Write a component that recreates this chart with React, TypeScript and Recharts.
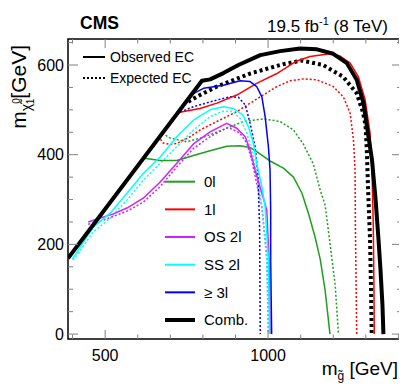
import React from 'react';
import { LineChart, Line, XAxis, YAxis } from 'recharts';

// ---------- data (m_gluino [GeV], m_LSP [GeV]) ----------
const combObserved: [number, number][] = [
  [386, 169], [797, 565], [822, 568], [863, 582], [909, 600], [976, 622], [1037, 631], [1098, 637],
  [1150, 635], [1200, 625], [1242, 604], [1272, 567], [1293, 515], [1305, 455], [1319, 388],
  [1330, 299], [1339, 210], [1345, 143], [1351, 65], [1354, 0],
];
const combExpected: [number, number][] = [
  [755, 518], [791, 533], [843, 552], [945, 581], [1047, 602], [1103, 610], [1169, 600], [1230, 574],
  [1272, 537], [1291, 495], [1299, 466], [1303, 410], [1307, 321], [1313, 210], [1316, 98], [1318, 0],
];
const zeroLepObserved: [number, number][] = [
  [620, 392], [669, 387], [720, 387], [771, 398], [822, 409], [873, 419], [914, 420], [945, 416],
  [965, 407], [1006, 386], [1047, 370], [1078, 350], [1104, 314], [1124, 269], [1144, 217],
  [1160, 167], [1175, 98], [1190, 0],
];
const zeroLepExpected: [number, number][] = [
  [675, 448], [700, 437], [751, 429], [802, 439], [873, 459], [924, 474], [986, 480], [1037, 474],
  [1078, 455], [1108, 424], [1139, 379], [1160, 321], [1175, 288], [1190, 203], [1206, 109], [1216, 0],
];
const oneLepObserved: [number, number][] = [
  [725, 494], [791, 503], [843, 515], [904, 533], [965, 559], [1027, 581], [1088, 609], [1129, 619],
  [1190, 625], [1221, 620], [1252, 604], [1277, 574], [1298, 522], [1313, 448], [1319, 366],
  [1323, 239], [1325, 98], [1326, 0],
];
const oneLepExpected: [number, number][] = [
  [663, 442], [678, 426], [700, 423], [720, 425], [761, 440], [791, 455], [843, 474], [904, 496],
  [976, 529], [1027, 552], [1068, 565], [1108, 569], [1150, 567], [1200, 552], [1231, 529],
  [1252, 492], [1262, 433], [1267, 366], [1268, 239], [1272, 0],
];
const os2lObserved: [number, number][] = [
  [448, 250], [495, 261], [525, 268], [567, 281], [617, 303], [669, 339], [720, 381], [771, 424],
  [822, 451], [873, 470], [904, 459], [930, 440], [945, 410], [960, 366], [981, 314], [996, 277],
  [1003, 165], [1006, 0],
];
const os2lExpected: [number, number][] = [
  [448, 245], [495, 254], [567, 274], [617, 294], [669, 329], [720, 373], [771, 414], [822, 440],
  [877, 461], [914, 448], [935, 425], [950, 388], [965, 336], [981, 284], [997, 165], [1001, 0],
];
const ss2lObserved: [number, number][] = [
  [399, 167], [464, 239], [515, 269], [567, 314], [617, 358], [669, 395], [720, 440], [771, 477],
  [822, 500], [863, 507], [894, 503], [923, 488], [940, 462], [955, 425], [965, 381], [981, 329],
  [991, 284], [1001, 165], [1005, 0],
];
const ss2lExpected: [number, number][] = [
  [402, 165], [464, 228], [515, 258], [567, 299], [617, 343], [669, 381], [720, 418], [771, 455],
  [822, 485], [863, 497], [893, 496], [914, 481], [935, 448], [955, 395], [970, 336], [981, 284],
  [996, 165], [1001, 0],
];
const ge3lObserved: [number, number][] = [
  [767, 535], [802, 548], [863, 555], [914, 565], [945, 563], [965, 552], [981, 529], [991, 485],
  [1001, 418], [1006, 366], [1008, 277], [1008, 165], [1011, 0],
];
const ge3lExpected: [number, number][] = [
  [712, 484], [730, 495], [771, 507], [843, 522], [884, 529], [909, 528], [930, 511], [945, 470],
  [960, 418], [969, 355], [974, 239], [976, 0],
];

const xTicks = [400, 500, 600, 700, 800, 900, 1000, 1100, 1200, 1300, 1400];
const yTicks = [0, 50, 100, 150, 200, 250, 300, 350, 400, 450, 500, 550, 600, 650];
const xDomain: [number, number] = [386, 1411];
const yDomain: [number, number] = [-11, 658];

const legendLabels = ['0l', '1l', 'OS 2l', 'SS 2l', '\u2265 3l', 'Comb.'];

// ---------- styles ----------
const GREEN = '#1f9e1f';
const RED = '#ff0000';
const MAGENTA = '#cc22ff';
const CYAN = '#00ffff';
const BLUE = '#0000ff';
const BLACK = '#000000';
const FONT = '"Liberation Sans", Arial, Helvetica, sans-serif';
const TICK = '#808080';

const W = 396;
const H = 375;
const PL = 60;
const PR = 394;
const PT = 31;
const PB = 331;

const toData = (pts: [number, number][]) => pts.map(([x, y]) => ({ x, y }));

type S = { pts: [number, number][]; color: string; width: number; dash?: string };
const series: S[] = [
  { pts: combExpected, color: BLACK, width: 4, dash: '3 3' },
  { pts: zeroLepExpected, color: GREEN, width: 1.5, dash: '2 2' },
  { pts: oneLepExpected, color: RED, width: 1.5, dash: '2 2' },
  { pts: os2lExpected, color: MAGENTA, width: 1.5, dash: '2 2' },
  { pts: ss2lExpected, color: CYAN, width: 1.5, dash: '2 2' },
  { pts: ge3lExpected, color: BLUE, width: 1.5, dash: '2 2' },
  { pts: zeroLepObserved, color: GREEN, width: 1.5 },
  { pts: oneLepObserved, color: RED, width: 1.5 },
  { pts: os2lObserved, color: MAGENTA, width: 1.5 },
  { pts: ss2lObserved, color: CYAN, width: 1.5 },
  { pts: ge3lObserved, color: BLUE, width: 1.5 },
  { pts: combObserved, color: BLACK, width: 4 },
];
const legendColors = [GREEN, RED, MAGENTA, CYAN, BLUE, BLACK];

const XTick = (p: any) => {
  const x = p.x;
  const v = p.payload.value;
  const major = v % 500 === 0;
  const len = major ? 9 : 4.5;
  return (
    <g>
      <line x1={x} x2={x} y1={PB} y2={PB - len} stroke={TICK} strokeWidth={1} />
      <line x1={x} x2={x} y1={PT} y2={PT + len} stroke={TICK} strokeWidth={1} />
      {major ? (
        <text x={x} y={PB + 22} textAnchor="middle" fontSize={16} fontFamily={FONT} fill="#000">
          {v}
        </text>
      ) : null}
    </g>
  );
};

const YTick = (p: any) => {
  const y = p.y;
  const v = p.payload.value;
  const major = v % 200 === 0;
  const len = major ? 10 : 5;
  return (
    <g>
      <line x1={PL} x2={PL + len} y1={y} y2={y} stroke={TICK} strokeWidth={1} />
      <line x1={PR} x2={PR - len} y1={y} y2={y} stroke={TICK} strokeWidth={1} />
      {major ? (
        <text x={56} y={y + 5.7} textAnchor="end" fontSize={16} fontFamily={FONT} fill="#000">
          {v}
        </text>
      ) : null}
    </g>
  );
};

export default function App() {
  return (
    <LineChart width={W} height={H} margin={{ top: PT, right: W - PR, left: 0, bottom: 0 }}>
      <XAxis
        dataKey="x"
        type="number"
        domain={xDomain}
        allowDataOverflow
        ticks={xTicks}
        interval={0}
        tick={XTick}
        tickLine={false}
        axisLine={false}
        height={H - PB}
      />
      <YAxis
        dataKey="y"
        type="number"
        domain={yDomain}
        allowDataOverflow
        ticks={yTicks}
        interval={0}
        tick={YTick}
        tickLine={false}
        axisLine={false}
        width={PL}
      />
      {series.map((s, i) => (
        <Line
          key={i}
          data={toData(s.pts)}
          dataKey="y"
          type="linear"
          stroke={s.color}
          strokeWidth={s.width}
          strokeDasharray={s.dash}
          dot={false}
          activeDot={false}
          isAnimationActive={false}
          strokeLinejoin="round"
        />
      ))}
      <rect x={PL} y={PT} width={PR - PL} height={PB - PT} fill="none" stroke="#000" strokeWidth={1.5} />
      {/* header texts */}
      <text x={72} y={21.3} fontSize={17.5} fontWeight="bold" fontFamily={FONT} fill="#000">CMS</text>
      <text x={380} y={24.3} textAnchor="end" fontSize={17} fontFamily={FONT} fill="#000">
        19.5 fb<tspan fontSize={11} dy={-7}>-1</tspan><tspan dy={7}> (8 TeV)</tspan>
      </text>
      {/* EC legend */}
      <line x1={75} x2={97} y1={49} y2={49} stroke="#000" strokeWidth={2} />
      <text x={102} y={54} fontSize={14} fontFamily={FONT} fill="#000">Observed EC</text>
      <line x1={75} x2={97} y1={70} y2={70} stroke="#000" strokeWidth={2} strokeDasharray="2 2" />
      <text x={102} y={75} fontSize={14} fontFamily={FONT} fill="#000">Expected EC</text>
      {/* analysis legend */}
      {legendLabels.map((lab, i) => {
        const cy = 173.7 + i * 27.66;
        return (
          <g key={lab}>
            <line x1={157} x2={187} y1={cy} y2={cy} stroke={legendColors[i]} strokeWidth={i === 5 ? 4 : 2} />
            <text x={196} y={cy + 5.4} fontSize={15} fontFamily={FONT} fill="#000">{lab}</text>
          </g>
        );
      })}
      {/* axis titles */}
      <text x={390} y={367} textAnchor="end" fontSize={19} fontFamily={FONT} fill="#000">
        m<tspan fontSize={12} dy={5}>g&#771;</tspan><tspan dy={-5}> [GeV]</tspan>
      </text>
      <text
        x={0}
        y={0}
        transform="translate(18,37) rotate(-90)"
        textAnchor="end"
        fontSize={21}
        fontFamily={FONT}
        fill="#000"
      >
        m<tspan fontSize={14} dy={5}>&#967;&#771;</tspan>
        <tspan fontSize={10} dy={-11}>0</tspan>
        <tspan fontSize={10} dx={-6} dy={14}>1</tspan>
        <tspan dy={-8}>[GeV]</tspan>
      </text>
    </LineChart>
  );
}
